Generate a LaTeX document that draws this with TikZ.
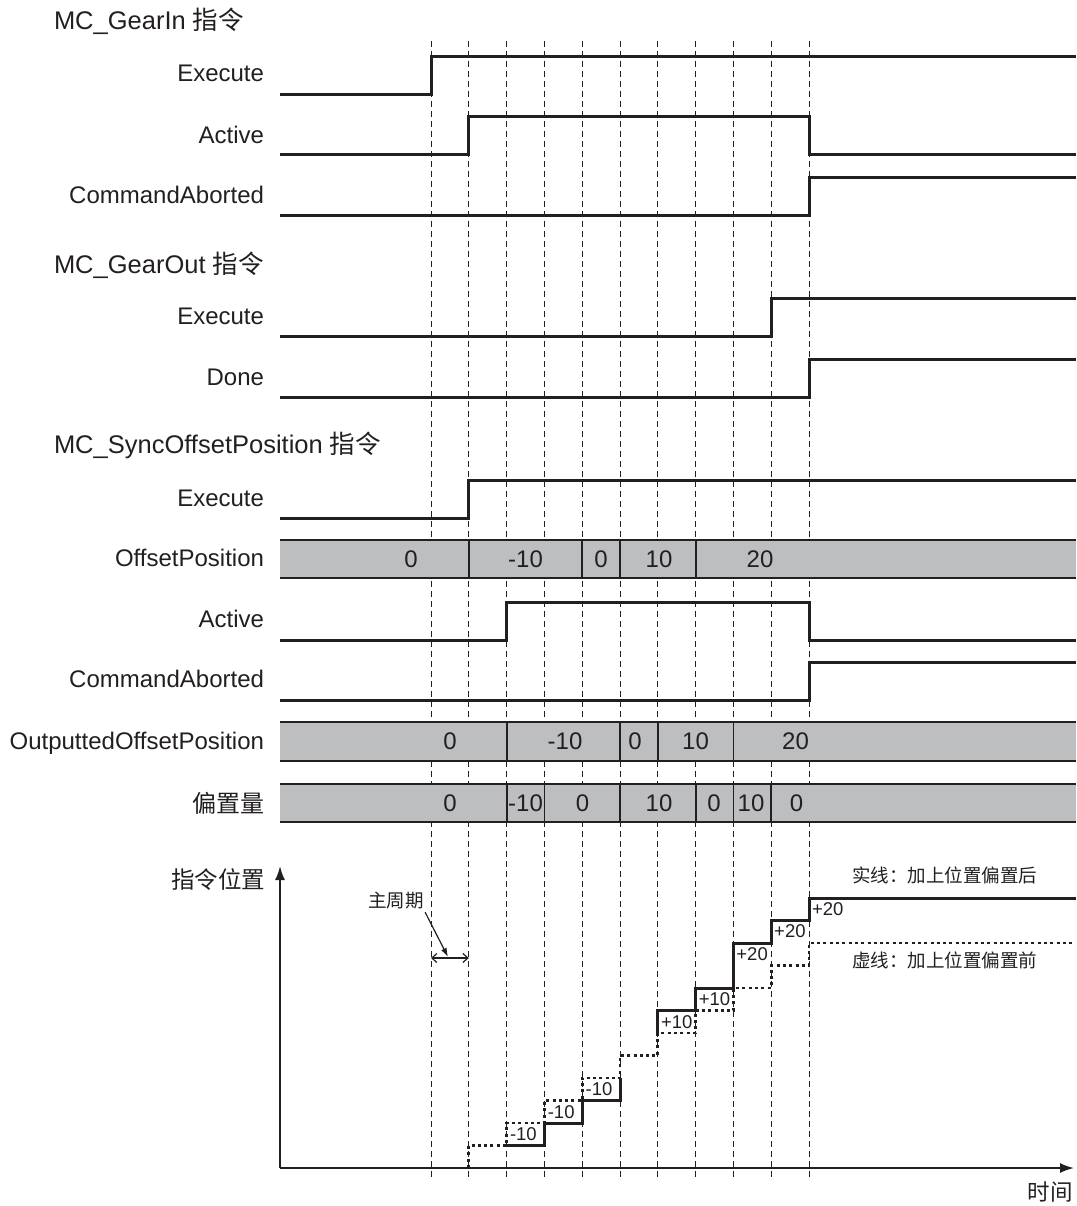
\documentclass[tikz,border=0pt]{standalone}
\usepackage{fontspec}
\setmainfont{Liberation Sans}
\newfontfamily\cjk{Noto Sans CJK SC}
\usetikzlibrary{arrows.meta}
\definecolor{ink}{HTML}{231F20}
\definecolor{barfill}{HTML}{BCBEC0}

\begin{document}
\begin{tikzpicture}[x=1pt,y=-1pt,
  every node/.style={inner sep=0pt,outer sep=0pt,text=ink},
  rowlabel/.style={anchor=base east,font=\fontsize{24}{28}\selectfont},
  cjklabel/.style={anchor=east,font=\cjk\fontsize{24}{28}\selectfont},
  title/.style={anchor=base west,font=\fontsize{25.5}{30}\selectfont},
  barlabel/.style={anchor=center,font=\fontsize{24}{28}\selectfont},
  steplabel/.style={anchor=west,font=\fontsize{18.5}{22}\selectfont},
  note/.style={font=\cjk\fontsize{18.5}{22}\selectfont},
  signal/.style={draw=ink,line width=3pt,line join=miter},
  gridline/.style={draw=ink,line width=1pt,dash pattern=on 6pt off 4pt},
  barrule/.style={draw=ink,line width=2.6pt},
  bardiv/.style={draw=ink,line width=1.8pt},
  axis/.style={draw=ink,line width=1.8pt,-{Latex[length=14pt,width=10pt]}},
  before/.style={draw=ink,line width=2.8pt,dash pattern=on 3pt off 3.3pt},
  after/.style={draw=ink,line width=3pt,line join=miter},
  thin arrow/.style={draw=ink,line width=1.2pt},
]
\useasboundingbox (0,0) rectangle (1076,1206);

% cycle boundaries (primary period grid)
\foreach \x in {431,468.8,506.6,544.4,582.2,620,657.8,695.6,733.4,771.2,809}
  \draw[gridline] (\x,41) -- (\x,1180);

% ---------------- MC_GearIn ----------------
\node[title] (tGearIn) at (54,29.5) {MC\_GearIn {\cjk 指令}};
\node[rowlabel] (lGinExe) at (264,81.5) {Execute};
\node[rowlabel] (lGinAct) at (264,143.5) {Active};
\node[rowlabel] (lGinAbt) at (264,203.5) {CommandAborted};
\draw[signal] (280,95) -- (431,95) -- (431,57) -- (1076,57);
\draw[signal] (280,155) -- (468.8,155) -- (468.8,117) -- (809,117) -- (809,155) -- (1076,155);
\draw[signal] (280,216) -- (809,216) -- (809,178) -- (1076,178);

% ---------------- MC_GearOut ----------------
\node[title] (tGearOut) at (54,273.5) {MC\_GearOut {\cjk 指令}};
\node[rowlabel] (lGoutExe) at (264,324.5) {Execute};
\node[rowlabel] (lGoutDone) at (264,385.5) {Done};
\draw[signal] (280,336) -- (771.2,336) -- (771.2,298.5) -- (1076,298.5);
\draw[signal] (280,397) -- (809,397) -- (809,359) -- (1076,359);

% ---------------- MC_SyncOffsetPosition ----------------
\node[title] (tSync) at (54,453.5) {MC\_SyncOffsetPosition {\cjk 指令}};
\node[rowlabel] (lSyExe) at (264,506.5) {Execute};
\node[rowlabel] (lSyOff) at (264,566.5) {OffsetPosition};
\node[rowlabel] (lSyAct) at (264,627.5) {Active};
\node[rowlabel] (lSyAbt) at (264,687.5) {CommandAborted};
\node[rowlabel] (lSyOut) at (264,749.5) {OutputtedOffsetPosition};
\node[cjklabel] (lSyAmt) at (264,803) {偏置量};

\draw[signal] (280,518) -- (468.8,518) -- (468.8,480) -- (1076,480);
\draw[signal] (280,640) -- (506.6,640) -- (506.6,602) -- (809,602) -- (809,640) -- (1076,640);
\draw[signal] (280,700) -- (809,700) -- (809,662) -- (1076,662);

% OffsetPosition bus
\fill[barfill] (280,540) rectangle (1076,578);
\draw[barrule] (280,540) -- (1076,540) (280,578) -- (1076,578);
\foreach \x in {468.8,582.2,620,695.6} \draw[bardiv] (\x,540) -- (\x,578);
\node[barlabel] (op1) at (411,559) {0};
\node[barlabel] (op2) at (525.5,559) {-10};
\node[barlabel] (op3) at (601,559) {0};
\node[barlabel] (op4) at (659,559) {10};
\node[barlabel] (op5) at (760,559) {20};

% OutputtedOffsetPosition bus
\fill[barfill] (280,722) rectangle (1076,761);
\draw[barrule] (280,722) -- (1076,722) (280,761) -- (1076,761);
\foreach \x in {506.6,620,657.8,733.4} \draw[bardiv] (\x,722) -- (\x,761);
\node[barlabel] (oo1) at (450,741.5) {0};
\node[barlabel] (oo2) at (565,741.5) {-10};
\node[barlabel] (oo3) at (635,741.5) {0};
\node[barlabel] (oo4) at (695.5,741.5) {10};
\node[barlabel] (oo5) at (795.5,741.5) {20};

% offset amount bus
\fill[barfill] (280,784) rectangle (1076,822);
\draw[barrule] (280,784) -- (1076,784) (280,822) -- (1076,822);
\foreach \x in {506.6,544.4,620,695.6,733.4,771.2} \draw[bardiv] (\x,784) -- (\x,822);
\node[barlabel] (oa1) at (450,803) {0};
\node[barlabel] (oa2) at (525.5,803) {-10};
\node[barlabel] (oa3) at (582.5,803) {0};
\node[barlabel] (oa4) at (659,803) {10};
\node[barlabel] (oa5) at (714,803) {0};
\node[barlabel] (oa6) at (751,803) {10};
\node[barlabel] (oa7) at (796.5,803) {0};

% ---------------- command position chart ----------------
\coordinate (origin) at (280,1168);
\coordinate (ytip) at (280,866);
\coordinate (xtip) at (1074,1168);
\draw[axis] (origin) -- (ytip);
\draw[axis] (origin) -- (xtip);
\node[cjklabel,font=\cjk\fontsize{23.5}{28}\selectfont] (yname) at (265,880) {指令位置};
\node[font=\cjk\fontsize{22.5}{26}\selectfont] (xname) at (1050,1192) {时间};

% primary period marker
\node[note] (period) at (396,901) {主周期};
\coordinate (pL) at (431,958);
\coordinate (pR) at (468.8,958);
\coordinate (pHit) at (448,957);
\draw[thin arrow,-{Latex[length=9pt,width=6pt]},shorten <=3pt] (period.south east) -- (pHit);
\draw[thin arrow,{Straight Barb[length=5pt,width=9pt]}-{Straight Barb[length=5pt,width=9pt]}] (pL) -- (pR);

% position before offset (dotted)
\draw[before] (431,1168) -- (468.8,1168) -- (468.8,1145.5) -- (506.6,1145.5)
  -- (506.6,1123) -- (544.4,1123) -- (544.4,1100.5) -- (582.2,1100.5)
  -- (582.2,1078) -- (620,1078) -- (620,1055.5) -- (657.8,1055.5)
  -- (657.8,1033) -- (695.6,1033) -- (695.6,1010.5) -- (733.4,1010.5)
  -- (733.4,988) -- (771.2,988) -- (771.2,965.5) -- (809,965.5)
  -- (809,943) -- (1072,943);

% position after offset (solid)
\draw[after] (506.6,1145.5) -- (544.4,1145.5) -- (544.4,1123) -- (582.2,1123)
  -- (582.2,1100.5) -- (620,1100.5) -- (620,1078);
\draw[after] (657.8,1033) -- (657.8,1010.5) -- (695.6,1010.5) -- (695.6,988)
  -- (733.4,988) -- (733.4,943) -- (771.2,943) -- (771.2,920.5)
  -- (809,920.5) -- (809,898) -- (1076,898);

% per-cycle offset values
\node[steplabel] (s1) at (510,1134.5) {-10};
\node[steplabel] (s2) at (547.8,1112) {-10};
\node[steplabel] (s3) at (585.6,1089.5) {-10};
\node[steplabel] (s4) at (661,1022) {+10};
\node[steplabel] (s5) at (698.8,999.5) {+10};
\node[steplabel] (s6) at (736.4,954) {+20};
\node[steplabel] (s7) at (774.2,931.5) {+20};
\node[steplabel] (s8) at (812,909) {+20};

% legend
\node[note,anchor=west] (solidnote) at (852,875) {实线：加上位置偏置后};
\node[note,anchor=west] (dotnote) at (852,960) {虚线：加上位置偏置前};

\end{tikzpicture}
\end{document}
